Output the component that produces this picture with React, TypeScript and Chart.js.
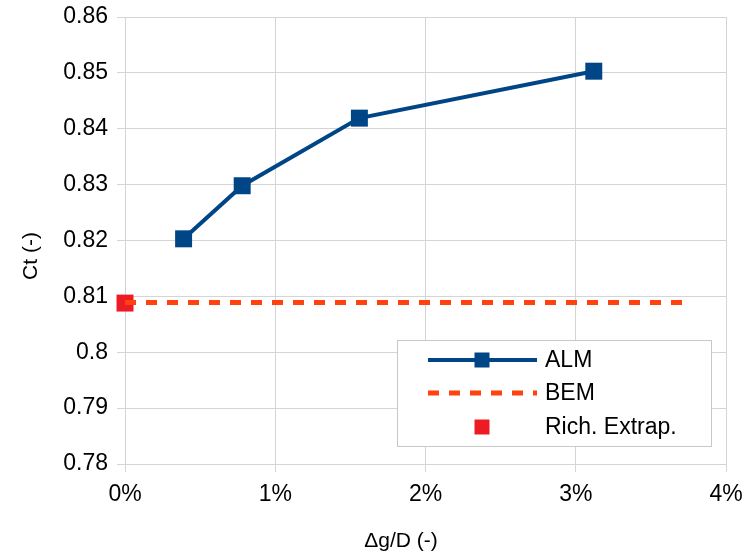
import React, { useEffect, useRef } from "react";
import { Chart, registerables } from "chart.js";

Chart.register(...registerables);

// Relative gap size Δg/D in percent and the thrust coefficient Ct
const gapPercent = [0.39, 0.78, 1.56, 3.12];
const almCt = [0.8203, 0.8298, 0.8419, 0.8503];
const bemGap = [0, 3.72];
const bemCt = [0.8089, 0.8089];
const richGap = [0];
const richCt = [0.8088];
const xTickValues = [0, 1, 2, 3, 4];
const seriesNames = ["ALM", "BEM", "Rich. Extrap."];

const FONT = "'Liberation Sans', Arial, sans-serif";
const ALM_COLOR = "#004586";
const BEM_COLOR = "#ff420e";
const RICH_COLOR = "#ed1c24";
const GRID = "#d4d4d4";
const DASH = [11, 10];

const overlayPlugin = {
  id: "overlay",
  afterDraw(chart: any) {
    const ctx = chart.ctx as CanvasRenderingContext2D;
    ctx.save();
    // axis titles
    ctx.fillStyle = "#000";
    ctx.font = `21px ${FONT}`;
    ctx.textAlign = "center";
    ctx.textBaseline = "middle";
    ctx.fillText("Δg/D (-)", 401, 541);
    ctx.translate(31, 256);
    ctx.rotate(-Math.PI / 2);
    ctx.fillText("Ct (-)", 0, 0);
    ctx.restore();

    // legend box
    ctx.save();
    const bx = 397, by = 340, bw = 314, bh = 106;
    ctx.fillStyle = "#fff";
    ctx.fillRect(bx, by, bw, bh);
    ctx.strokeStyle = "#c8c8c8";
    ctx.lineWidth = 1;
    ctx.strokeRect(bx + 0.5, by + 0.5, bw, bh);
    const rows = [360, 393, 427];
    const x0 = 428, x1 = 537, xm = 482;
    // ALM
    ctx.strokeStyle = ALM_COLOR;
    ctx.lineWidth = 4;
    ctx.beginPath();
    ctx.moveTo(x0, rows[0]);
    ctx.lineTo(x1, rows[0]);
    ctx.stroke();
    ctx.fillStyle = ALM_COLOR;
    ctx.fillRect(xm - 7.5, rows[0] - 7.5, 15, 15);
    // BEM
    ctx.strokeStyle = BEM_COLOR;
    ctx.lineWidth = 5;
    ctx.setLineDash(DASH);
    ctx.beginPath();
    ctx.moveTo(x0, rows[1]);
    ctx.lineTo(x1, rows[1]);
    ctx.stroke();
    ctx.setLineDash([]);
    // Rich. Extrap.
    ctx.fillStyle = RICH_COLOR;
    ctx.fillRect(xm - 7.5, rows[2] - 7.5, 15, 15);
    // labels
    ctx.fillStyle = "#000";
    ctx.font = `23px ${FONT}`;
    ctx.textAlign = "left";
    ctx.textBaseline = "middle";
    seriesNames.forEach((n, i) => ctx.fillText(n, 545, rows[i] + 1));
    ctx.restore();
  },
};

export default function App() {
  const ref = useRef<HTMLCanvasElement>(null);
  useEffect(() => {
    document.body.style.margin = "0";
    const chart = new Chart(ref.current!, {
      type: "scatter",
      data: {
        datasets: [
          {
            label: seriesNames[1],
            data: bemGap.map((x, i) => ({ x, y: bemCt[i] })),
            showLine: true,
            borderColor: BEM_COLOR,
            borderWidth: 5,
            borderDash: DASH,
            pointRadius: 0,
            clip: false as any,
          },
          {
            label: seriesNames[0],
            data: gapPercent.map((x, i) => ({ x, y: almCt[i] })),
            showLine: true,
            borderColor: ALM_COLOR,
            backgroundColor: ALM_COLOR,
            borderWidth: 4,
            pointStyle: "rect",
            pointRadius: 12,
            pointBorderWidth: 0,
            clip: false as any,
          },
          {
            label: seriesNames[2],
            data: richGap.map((x, i) => ({ x, y: richCt[i] })),
            backgroundColor: RICH_COLOR,
            borderColor: RICH_COLOR,
            pointStyle: "rect",
            pointRadius: 12,
            pointBorderWidth: 0,
            clip: false as any,
          },
        ],
      },
      options: {
        animation: false,
        responsive: false,
        layout: { padding: { top: 17, right: 25, left: 0, bottom: 0 } },
        plugins: { legend: { display: false }, tooltip: { enabled: false } },
        scales: {
          x: {
            type: "linear",
            min: 0,
            max: 4,
            afterBuildTicks: (s: any) => {
              s.ticks = xTickValues.map((v) => ({ value: v }));
            },
            afterFit: (s: any) => {
              s.height = 92;
              s.paddingLeft = 0;
              s.paddingRight = 0;
            },
            ticks: {
              callback: (v: any) => `${v}%`,
              color: "#000",
              font: { family: FONT, size: 23 },
              padding: 9,
              maxRotation: 0,
            },
            grid: { color: GRID, lineWidth: 1, tickLength: 8 },
            border: { color: GRID },
          },
          y: {
            type: "linear",
            min: 0.78,
            max: 0.86,
            ticks: {
              stepSize: 0.01,
              callback: (v: any) => String(Number(Number(v).toFixed(2))),
              color: "#000",
              font: { family: FONT, size: 23 },
              padding: 9,
            },
            afterFit: (s: any) => {
              s.width = 125;
              s.paddingTop = 0;
              s.paddingBottom = 0;
            },
            grid: { color: GRID, lineWidth: 1, tickLength: 8 },
            border: { color: GRID },
          },
        },
      },
      plugins: [overlayPlugin],
    });
    return () => chart.destroy();
  }, []);
  return <canvas ref={ref} width={751} height={556} style={{ display: "block" }} />;
}
